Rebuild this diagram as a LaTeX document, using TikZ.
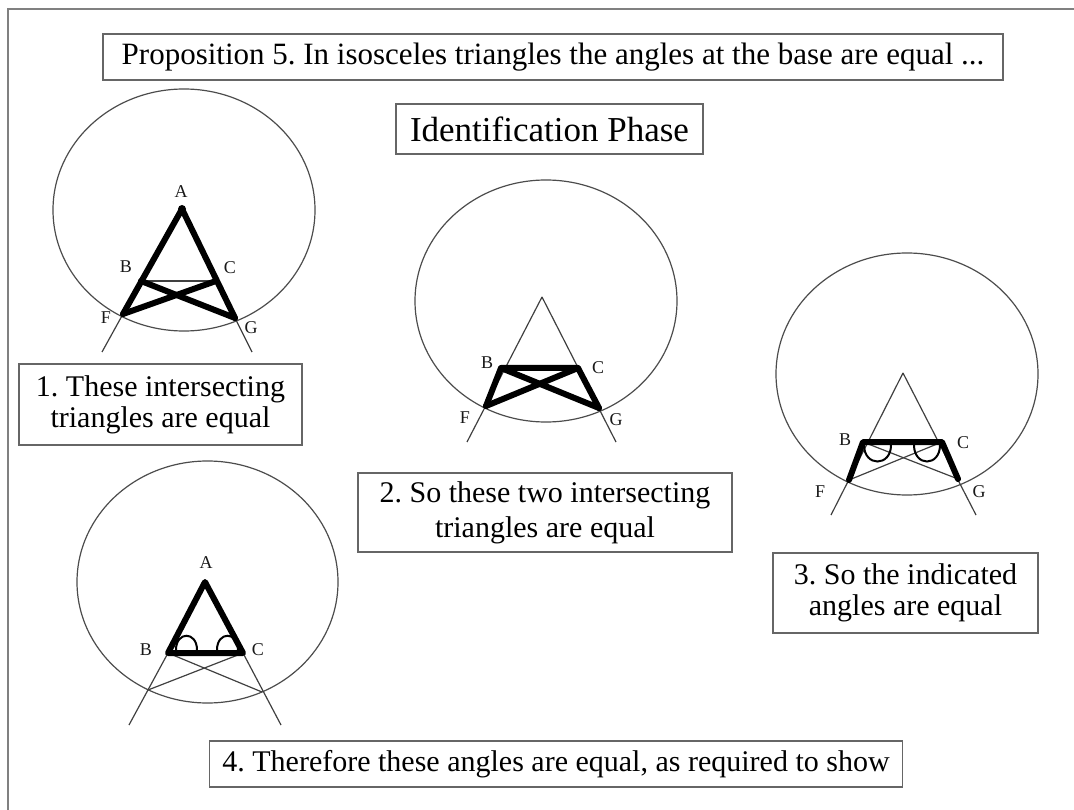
\documentclass[tikz,border=0pt]{standalone}
\usepackage{fontspec}
\setmainfont{Liberation Serif}
\begin{document}
\frenchspacing
\begin{tikzpicture}[x=1pt,y=-1pt,
  thinline/.style={line width=1.2pt, draw=black!75},
  thickline/.style={line width=6pt, line cap=round, line join=round},
  ring/.style={line width=1.2pt, draw=black!70},
  lbl/.style={font=\fontsize{18}{18}\selectfont, inner sep=0pt, text=black!90},
  txtbox/.style={draw=black!60, line width=1.6pt, align=center, font=\fontsize{30}{31}\selectfont, inner sep=0pt, text=black},
  angarc/.style={line width=2pt}
]
\useasboundingbox (0,0) rectangle (1074,810);
\coordinate (fr1) at (8,810);
\coordinate (fr2) at (8,9);
\coordinate (fr3) at (1074,9);
\draw[line width=2pt, black!50] (fr1) -- (fr2) -- (fr3);

% text boxes
\node[txtbox, minimum width=900, minimum height=46, font=\fontsize{31}{33}\selectfont] (title) at (553,57) {Proposition 5. In isosceles triangles the angles at the base are equal ...};
\node[txtbox, minimum width=307, minimum height=50, font=\fontsize{35}{37}\selectfont] (phase) at (549.5,129) {Identification Phase};
\node[txtbox, minimum width=283, minimum height=81] (box1) at (160.5,404.5) {1. These intersecting\\triangles are equal};
\node[txtbox, minimum width=374, minimum height=79, font=\fontsize{30}{35}\selectfont] (box2) at (545,512.5) {2. So these two intersecting\\triangles are equal};
\node[txtbox, minimum width=265, minimum height=80] (box3) at (905.5,593) {3. So the indicated\\angles are equal};
\node[txtbox, inner xsep=13pt, minimum height=46] (box4) at (556,764) {4. Therefore these angles are equal, as required to show};

% circles
\draw[ring] (184,210) ellipse [x radius=131, y radius=121];
\draw[ring] (546,301) ellipse [x radius=131, y radius=121];
\draw[ring] (907,374) ellipse [x radius=131, y radius=121];
\draw[ring] (207.5,582) ellipse [x radius=130.5, y radius=121];

% figure 1
\coordinate (A1) at (182,209);
\coordinate (B1) at (141,281);
\coordinate (C1) at (216,281);
\coordinate (F1) at (123,314);
\coordinate (G1) at (235,318);
\coordinate (F1e) at (102,352);
\coordinate (G1e) at (252,352);
\draw[thinline] (F1) -- (F1e);
\draw[thinline] (G1) -- (G1e);
\draw[thinline] (B1) -- (C1);
\draw[thickline] (F1) -- (A1) -- (G1);
\draw[thickline] (B1) -- (G1);
\draw[thickline] (C1) -- (F1);
\fill (A1) circle[radius=4];
\node[lbl] (lA1) at (181,192) {A};
\node[lbl] (lB1) at (126,267) {B};
\node[lbl] (lC1) at (230,268) {C};
\node[lbl] (lF1) at (106,318) {F};
\node[lbl] (lG1) at (251,328) {G};

% figure 2
\coordinate (T2) at (542,297);
\coordinate (B2) at (501,368);
\coordinate (C2) at (578,368);
\coordinate (F2) at (486,406);
\coordinate (G2) at (599,408);
\coordinate (F2e) at (467,442);
\coordinate (G2e) at (616,442);
\draw[thinline] (T2) -- (F2e);
\draw[thinline] (T2) -- (G2e);
\draw[thickline] (F2) -- (B2) -- (C2) -- (G2);
\draw[thickline] (B2) -- (G2);
\draw[thickline] (C2) -- (F2);
\node[lbl] (lB2) at (487,363) {B};
\node[lbl] (lC2) at (598,368) {C};
\node[lbl] (lF2) at (465,418) {F};
\node[lbl] (lG2) at (616,420) {G};

% figure 3
\coordinate (T3) at (903,373);
\coordinate (B3) at (863,442);
\coordinate (C3) at (942,442);
\coordinate (F3) at (849,480);
\coordinate (G3) at (958,479);
\coordinate (F3e) at (831,515);
\coordinate (G3e) at (976,515);
\coordinate (a3l) at (864,445);
\coordinate (a3m) at (891,445);
\coordinate (a3n) at (914,445);
\coordinate (a3r) at (940,445);
\draw[thinline] (T3) -- (F3e);
\draw[thinline] (T3) -- (G3e);
\draw[thinline] (B3) -- (G3);
\draw[thinline] (C3) -- (F3);
\draw[thickline] (F3) -- (B3) -- (C3) -- (G3);
\draw[angarc] (a3l) .. controls (864,467) and (891,467) .. (a3m);
\draw[angarc] (a3n) .. controls (914,467) and (940,467) .. (a3r);
\node[lbl] (lB3) at (845,440) {B};
\node[lbl] (lC3) at (963,443) {C};
\node[lbl] (lF3) at (820,492) {F};
\node[lbl] (lG3) at (979,492) {G};

% figure 4
\coordinate (A4) at (205,582);
\coordinate (B4) at (168,653);
\coordinate (C4) at (243,653);
\coordinate (F4) at (148,690);
\coordinate (G4) at (262,692);
\coordinate (F4e) at (129,725);
\coordinate (G4e) at (281,725);
\coordinate (a4l) at (176,650);
\coordinate (a4m) at (197,650);
\coordinate (a4n) at (217,650);
\coordinate (a4r) at (238,650);
\draw[thinline] (B4) -- (F4e);
\draw[thinline] (C4) -- (G4e);
\draw[thinline] (B4) -- (G4);
\draw[thinline] (C4) -- (F4);
\draw[thickline] (A4) -- (B4) -- (C4) -- cycle;
\draw[angarc] (a4l) .. controls (176,631) and (197,631) .. (a4m);
\draw[angarc] (a4n) .. controls (217,631) and (238,631) .. (a4r);
\node[lbl] (lA4) at (206,563) {A};
\node[lbl] (lB4) at (146,650) {B};
\node[lbl] (lC4) at (258,650) {C};
\end{tikzpicture}
\end{document}
